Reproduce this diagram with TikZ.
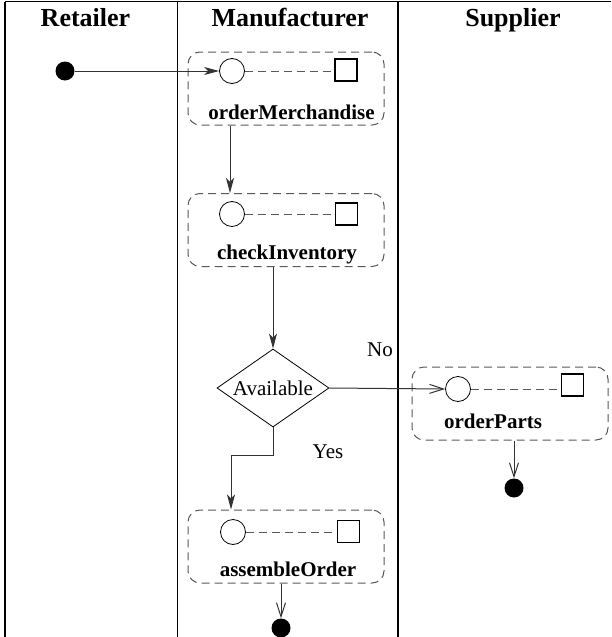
\documentclass[tikz,border=0pt]{standalone}
\usepackage{fontspec}
\setmainfont{Liberation Serif}
\usetikzlibrary{arrows.meta,shapes.geometric}
\begin{document}
\begin{tikzpicture}[x=1pt,y=-1pt,
 lane/.style={line width=1.1pt, draw=black},
 actbox/.style={draw=black!65, line width=1pt, dash pattern=on 8pt off 5pt, rounded corners=12pt, minimum width=196pt, minimum height=73pt, inner sep=0pt},
 port/.style={circle, draw=black, line width=0.8pt, minimum size=25pt, inner sep=0pt, fill=white},
 sqport/.style={rectangle, draw=black, line width=1.6pt, minimum size=22pt, inner sep=0pt},
 link/.style={draw=black!65, line width=1pt, dash pattern=on 8pt off 5pt},
 lbl/.style={font=\fontsize{21}{24}\selectfont\bfseries, inner sep=0pt, anchor=base},
 hdr/.style={font=\fontsize{26}{30}\selectfont\bfseries, inner sep=0pt, anchor=base},
 txt/.style={font=\fontsize{21}{24}\selectfont, inner sep=0pt, anchor=base},
 enddot/.style={circle, fill=black, minimum size=19pt, inner sep=0pt},
 flow/.style={draw=black!80, line width=1pt, -{Stealth[length=15pt,width=8pt,inset=4pt]}},
 flowopen/.style={draw=black!80, line width=1pt, -{Straight Barb[length=14pt,width=9pt]}},
 decision/.style={diamond, draw=black, line width=0.8pt, inner sep=0pt, aspect=1.43, minimum width=112pt, minimum height=78pt, font=\fontsize{21}{24}\selectfont},
]
\useasboundingbox (0,0) rectangle (611,637);
% swimlanes
\draw[lane] (5,1.5) -- (611,1.5);
\draw[lane] (5,1.5) -- (5,637);
\draw[lane] (177.5,1.5) -- (177.5,637);
\draw[lane] (398,1.5) -- (398,637);
\node[hdr] (h1) at (85.5,27) {Retailer};
\node[hdr] (h2) at (290,27) {Manufacturer};
\node[hdr] (h3) at (513,27) {Supplier};

% activity 1
\node[actbox] (b1) at (286,88.5) {};
\node[port] (p1) at (232,71) {};
\node[sqport] (s1) at (346,70) {};
\draw[link] (p1.east) -- (p1.east -| s1.west);
\node[lbl] (l1) at (291.5,119) {orderMerchandise};

% activity 2
\node[actbox] (b2) at (286,230) {};
\node[port] (p2) at (232,214) {};
\node[sqport] (s2) at (346.5,214) {};
\draw[link] (p2.east) -- (p2.east -| s2.west);
\node[lbl] (l2) at (287,259) {checkInventory};

% activity 3
\node[actbox] (b3) at (510,403.5) {};
\node[port] (p3) at (458,389) {};
\node[sqport] (s3) at (572.5,385) {};
\draw[link] (p3.east) -- (p3.east -| s3.west);
\node[lbl] (l3) at (493,428) {orderParts};

% activity 4
\node[actbox] (b4) at (286,546.5) {};
\node[port] (p4) at (233,532) {};
\node[sqport] (s4) at (348.5,531.5) {};
\draw[link] (p4.east) -- (p4.east -| s4.west);
\node[lbl] (l4) at (288,576) {assembleOrder};

% decision
\node[decision] (dec) at (273,388) {Available};

% start / end dots
\node[enddot] (d0) at (65,71) {};
\node[enddot] (d3) at (514,488) {};
\node[enddot] (d4) at (281,628) {};

% flows
\draw[flow] (d0) -- (p1.west);
\draw[flow] (b1.south -| 230,0) -- (b2.north -| 230,0);
\draw[flow] (b2.south -| dec.north) -- (dec.north);
\draw[flowopen] (dec.east) -- (p3.west);
\node[txt] (no) at (380,356) {No};
\draw[flow] (dec.south) -- ++(0,28) -| (b4.north -| 231,0);
\node[txt] (yes) at (328,458) {Yes};
\draw[flowopen] (b3.south -| d3) -- (d3.north);
\draw[flowopen] (b4.south -| d4) -- (d4.north);
\end{tikzpicture}
\end{document}
